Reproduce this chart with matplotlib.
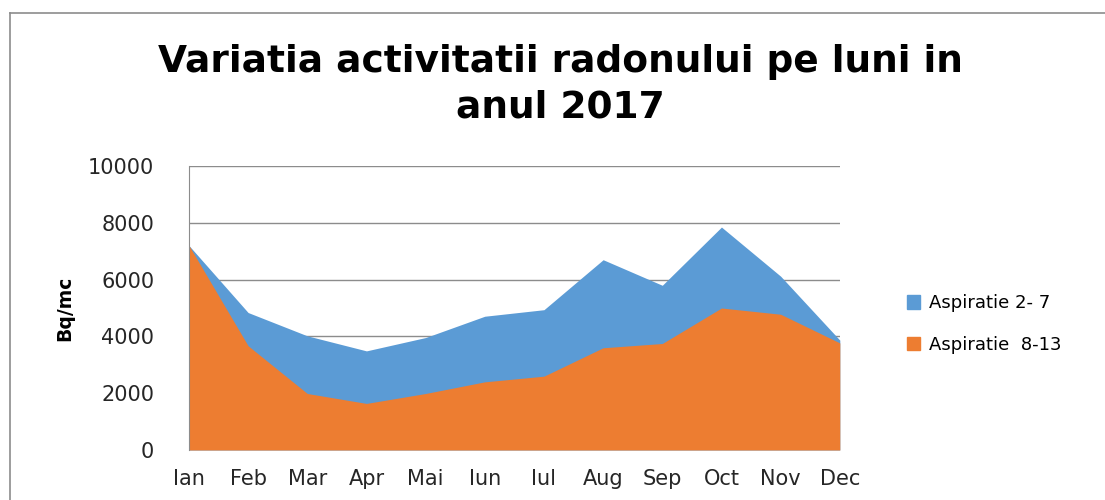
import matplotlib
matplotlib.use("Agg")
import matplotlib.pyplot as plt
from matplotlib.lines import Line2D
from matplotlib.patches import Patch

plt.rcParams['font.family'] = ['DejaVu Sans']

months = ['Ian', 'Feb', 'Mar', 'Apr', 'Mai', 'Iun', 'Iul', 'Aug', 'Sep', 'Oct', 'Nov', 'Dec']
aspiratie_2_7 = [7200, 4840, 4020, 3490, 3960, 4710, 4940, 6700, 5800, 7850, 6120, 3870]
aspiratie_8_13 = [7200, 3670, 1990, 1640, 1990, 2400, 2600, 3600, 3750, 5000, 4780, 3770]
yticks = [0, 2000, 4000, 6000, 8000, 10000]

blue = '#5B9BD5'
orange = '#ED7D31'

fig = plt.figure(figsize=(11.05, 5), dpi=100)
ax = fig.add_axes([0.171, 0.1, 0.589, 0.568])

x = list(range(len(months)))
ax.fill_between(x, 0, aspiratie_2_7, color=blue, linewidth=0)
ax.fill_between(x, 0, aspiratie_8_13, color=orange, linewidth=0)

ax.set_xlim(0, len(months) - 1)
ax.set_ylim(0, 10000)
ax.set_yticks(yticks)
ax.set_yticklabels([str(v) for v in yticks], fontsize=15, color='#262626')
ax.set_xticks(x)
ax.set_xticklabels(months, fontsize=15, color='#262626')
ax.tick_params(axis='both', length=0)
ax.tick_params(axis='y', pad=25)
ax.tick_params(axis='x', pad=14)
ax.grid(axis='y', color='#8c8c8c', linewidth=1)
ax.set_axisbelow(True)
for side in ['top', 'right', 'bottom']:
    ax.spines[side].set_visible(False)
ax.spines['left'].set_color('#8c8c8c')

ax.set_ylabel('Bq/mc', fontsize=13.5, fontweight='bold', labelpad=10)

fig.text(0.507, 0.876, 'Variatia activitatii radonului pe luni in',
         ha='center', va='center', fontsize=27, fontweight='bold')
fig.text(0.507, 0.784, 'anul 2017',
         ha='center', va='center', fontsize=27, fontweight='bold')

handles = [Patch(color=blue, label='Aspiratie 2- 7'),
           Patch(color=orange, label='Aspiratie  8-13')]
fig.legend(handles=handles, loc='center left', bbox_to_anchor=(0.806, 0.352),
           frameon=False, fontsize=13, handlelength=0.75, handleheight=0.75,
           labelspacing=1.3, handletextpad=0.45)

# outer chart frame (left and top edges visible)
fig.add_artist(Line2D([0.009, 0.009], [0, 0.974], color='#8c8c8c', linewidth=1.2))
fig.add_artist(Line2D([0.009, 1.0], [0.974, 0.974], color='#8c8c8c', linewidth=1.2))

fig.savefig('out.png', dpi=100)
